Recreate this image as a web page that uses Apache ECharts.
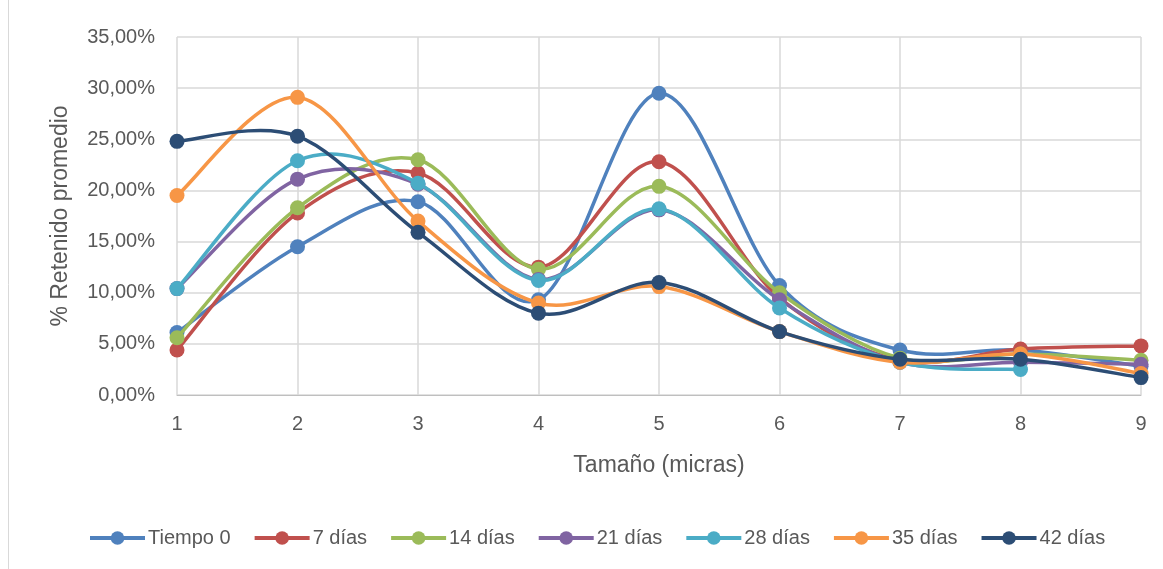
<!DOCTYPE html>
<html>
<head>
<meta charset="utf-8">
<script src="https://cdn.jsdelivr.net/npm/echarts@6/dist/echarts.min.js"></script>
<style>
  html, body { margin: 0; padding: 0; background: #fff; }
  #chart { width: 1163px; height: 569px; }
</style>
</head>
<body>
<div id="chart"></div>
<script>
// Particle size classes (micras)
const sizes = ['1', '2', '3', '4', '5', '6', '7', '8', '9'];

// Average retained percentage per size class, one array per sampling time
const tiempo0 = [6.1, 14.5, 18.9, 9.3, 29.5, 10.7, 4.4, 4.4, 2.8];
const dias7   = [4.4, 17.8, 21.7, 12.5, 22.8, 9.5, 3.4, 4.5, 4.8];
const dias14  = [5.6, 18.3, 23.0, 12.3, 20.4, 10.0, 3.6, 4.0, 3.4];
const dias21  = [10.4, 21.1, 20.6, 11.3, 18.1, 9.3, 3.2, 3.2, 3.0];
const dias28  = [10.4, 22.9, 20.7, 11.2, 18.2, 8.5, 3.2, 2.5, null];
const dias35  = [19.5, 29.1, 17.0, 9.0, 10.6, 6.2, 3.2, 4.0, 2.1];
const dias42  = [24.8, 25.3, 15.9, 8.0, 11.0, 6.2, 3.5, 3.5, 1.7];

const seriesNames = ['Tiempo 0', '7 días', '14 días', '21 días', '28 días', '35 días', '42 días'];
const seriesData = [tiempo0, dias7, dias14, dias21, dias28, dias35, dias42];
const colors = ['#4F81BD', '#C0504D', '#9BBB59', '#8064A2', '#4BACC6', '#F79646', '#2C4D75'];

const FONT = '"Liberation Sans", Arial, sans-serif';
const TXT = '#595959';
const LINE_W = 3.5;

// Smoothed curve through the projected points (cardinal spline, tension 1/6),
// allowed to swing past the points like a spreadsheet "smoothed line".
function smoothPath(pts) {
  if (pts.length === 0) return '';
  let d = 'M' + pts[0][0] + ',' + pts[0][1];
  for (let i = 0; i < pts.length - 1; i++) {
    const p0 = pts[i - 1] || pts[i];
    const p1 = pts[i];
    const p2 = pts[i + 1];
    const p3 = pts[i + 2] || pts[i + 1];
    const c1x = p1[0] + (p2[0] - p0[0]) / 6;
    const c1y = p1[1] + (p2[1] - p0[1]) / 6;
    const c2x = p2[0] - (p3[0] - p1[0]) / 6;
    const c2y = p2[1] - (p3[1] - p1[1]) / 6;
    d += ' C' + c1x + ',' + c1y + ' ' + c2x + ',' + c2y + ' ' + p2[0] + ',' + p2[1];
  }
  return d;
}

function curveSeries(values, color, z) {
  return {
    type: 'custom',
    coordinateSystem: 'cartesian2d',
    data: [[0, 0]],
    z: z,
    silent: true,
    renderItem: function (params, api) {
      const pts = [];
      values.forEach(function (v, i) {
        if (v !== null && v !== undefined) pts.push(api.coord([i, v]));
      });
      return {
        type: 'path',
        shape: { pathData: smoothPath(pts) },
        style: { fill: 'none', stroke: color, lineWidth: LINE_W, lineJoin: 'round', lineCap: 'round' }
      };
    }
  };
}

function markerSeries(name, values, color, z) {
  return {
    name: name,
    type: 'line',
    data: values,
    z: z,
    symbol: 'circle',
    symbolSize: 15,
    showAllSymbol: true,
    connectNulls: false,
    lineStyle: { width: LINE_W, color: color, opacity: 0 },
    itemStyle: { color: color },
    emphasis: { disabled: true }
  };
}

const series = [];
seriesNames.forEach(function (name, i) {
  series.push(curveSeries(seriesData[i], colors[i], 10 + i * 2));
  series.push(markerSeries(name, seriesData[i], colors[i], 11 + i * 2));
});

const chart = echarts.init(document.getElementById('chart'), null, { renderer: 'canvas' });

chart.setOption({
  animation: false,
  backgroundColor: '#ffffff',
  textStyle: { fontFamily: FONT, color: TXT },
  grid: { left: 177, right: 22, top: 37, bottom: 174, containLabel: false },
  graphic: [{
    type: 'line',
    shape: { x1: 8.5, y1: 0, x2: 8.5, y2: 569 },
    style: { stroke: '#D9D9D9', lineWidth: 1 }
  }],
  legend: {
    bottom: 21,
    left: 88,
    padding: 0,
    itemWidth: 55,
    itemHeight: 17,
    itemGap: 22,
    lineStyle: { width: 4, opacity: 1 },
    textStyle: { fontFamily: FONT, fontSize: 20, color: TXT, padding: [0, 0, 0, -2] },
    data: seriesNames
  },
  xAxis: {
    type: 'category',
    data: sizes,
    boundaryGap: false,
    name: 'Tamaño (micras)',
    nameLocation: 'middle',
    nameGap: 59,
    nameTextStyle: { fontFamily: FONT, fontSize: 23, color: TXT },
    axisLine: { lineStyle: { color: '#BFBFBF', width: 1 } },
    axisTick: { show: false },
    axisLabel: { fontFamily: FONT, fontSize: 20, color: TXT, margin: 19 },
    splitLine: { show: true, lineStyle: { color: '#D9D9D9', width: 1.5 } }
  },
  yAxis: {
    type: 'value',
    min: 0,
    max: 35,
    interval: 5,
    name: '% Retenido promedio',
    nameLocation: 'middle',
    nameGap: 105,
    nameTextStyle: { fontFamily: FONT, fontSize: 23, color: TXT },
    axisLine: { show: false },
    axisTick: { show: false },
    axisLabel: {
      fontFamily: FONT, fontSize: 20, color: TXT, margin: 22,
      formatter: function (v) { return v.toFixed(2).replace('.', ',') + '%'; }
    },
    splitLine: { show: true, lineStyle: { color: '#D9D9D9', width: 1.5 } }
  },
  series: series
});
</script>
</body>
</html>
